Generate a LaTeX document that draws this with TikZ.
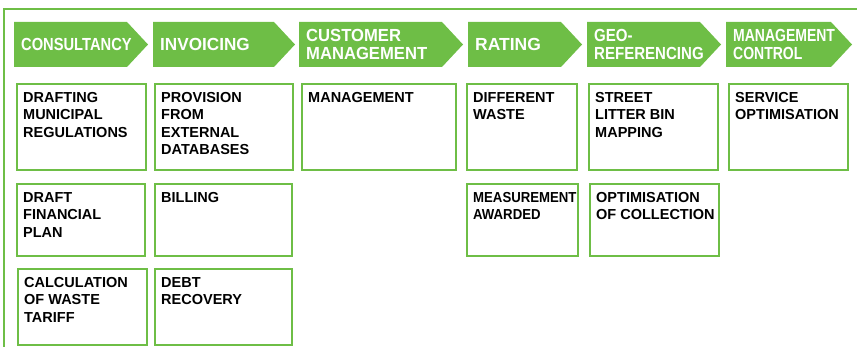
\documentclass[tikz,border=0pt]{standalone}
\usepackage{fontspec}
\setmainfont{Liberation Sans}
\usepackage{tikz}
\definecolor{leafgreen}{RGB}{110,190,70}
\tikzstyle{frame}=[draw=leafgreen,line width=2pt]
\tikzstyle{chevron}=[fill=leafgreen]
\tikzstyle{headtext}=[anchor=west,inner sep=0pt,align=left,text=white,font=\bfseries\fontsize{17.5}{18}\selectfont]
\tikzstyle{cell}=[draw=leafgreen,line width=2pt,inner sep=0pt,anchor=north west]
\tikzstyle{celltext}=[anchor=north west,inner sep=0pt,align=left,font=\bfseries\fontsize{14.5}{17.5}\selectfont]

\begin{document}
\begin{tikzpicture}[x=1pt,y=-1pt]
    \useasboundingbox (0,0) rectangle (857,347);
    \clip (0,0) rectangle (857,347);
    % outer frame, cut at the right and bottom
    \draw[frame] (4,360) -- (4,9) -- (870,9);

    % First we draw the headers
    \foreach \xa/\xb/\sx/\name/\txt in {{14/148/0.84/cons/CONSULTANCY},
        {153/295/0.98/inv/INVOICING},
        {299/463/0.95/cust/{CUSTOMER\\MANAGEMENT}},
        {468/582/1/rat/RATING},
        {587/721/0.86/geo/{GEO-\\REFERENCING}},
        {726/852/0.80/ctrl/{MANAGEMENT\\CONTROL}}}
    {
        \fill[chevron] (\xa,22) -- (\xb-21,22) -- (\xb,44.5) -- (\xb-21,67) -- (\xa,67) -- cycle;
        \node[headtext,xscale=\sx] (\name) at (\xa+7,44.5) {\txt};
    }

    % Then the cells below each header
    \foreach \xa/\xb/\ya/\yb/\sx/\name/\txt in {{15/146/82/170/1/cons1/{DRAFTING\\MUNICIPAL\\REGULATIONS}},
        {153/293/82/170/1/inv1/{PROVISION\\FROM\\EXTERNAL\\DATABASES}},
        {300/456/82/170/1/cust1/MANAGEMENT},
        {465/577/82/170/1/rat1/{DIFFERENT\\WASTE}},
        {587/718/82/170/1/geo1/{STREET\\LITTER BIN\\MAPPING}},
        {727/848/82/170/1/ctrl1/{SERVICE\\OPTIMISATION}},
        {15/145/182/256/1/cons2/{DRAFT\\FINANCIAL\\PLAN}},
        {153/292/182/256/1/inv2/BILLING},
        {465/578/182/256/0.91/rat2/{MEASUREMENT\\AWARDED}},
        {588/719/182/256/1/geo2/{OPTIMISATION\\OF COLLECTION}},
        {16/147/267/345/1/cons3/{CALCULATION\\OF WASTE\\TARIFF}},
        {153/292/267/345/1/inv3/{DEBT\\RECOVERY}}}
    {
        \node[cell,minimum width=\xb-\xa-2,minimum height=\yb-\ya-2] (\name) at (\xa+1,\ya+1) {};
        \node[celltext,xscale=\sx] (\name t) at ([xshift=7pt,yshift=-9pt]\name.north west) {\txt};
    }
\end{tikzpicture}
\end{document}
